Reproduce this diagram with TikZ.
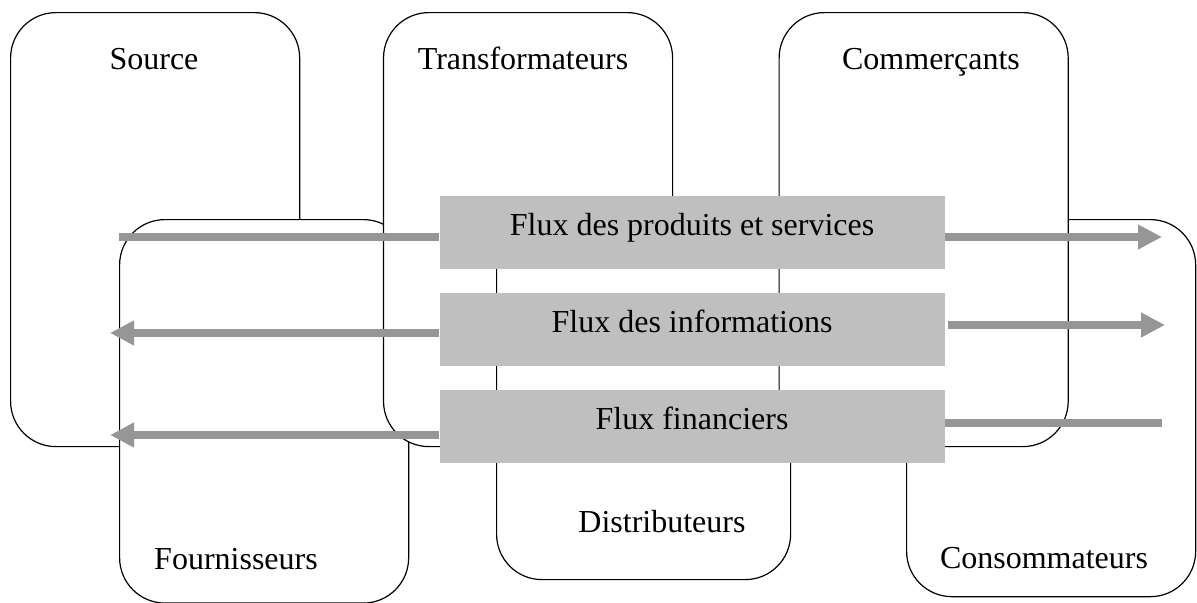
\documentclass[tikz,border=0pt]{standalone}
\usepackage{fontspec}
\setmainfont{Liberation Serif}
\usetikzlibrary{positioning,calc,arrows.meta}
\definecolor{barfill}{RGB}{191,191,191}
\definecolor{flowgray}{RGB}{150,150,150}
\tikzset{
  acteur/.style={draw, fill=white, line width=0.45pt, rounded corners=17pt, inner sep=0pt, minimum width=108.4pt},
  haut/.style={acteur, minimum height=162.75pt},
  bas/.style={acteur, minimum height=142.5pt},
  nom/.style={font=\fontsize{12pt}{14pt}\selectfont, inner sep=0pt},
  fluxbar/.style={fill=barfill, minimum width=189.4pt, inner sep=0pt, text height=15pt, text depth=12.4pt, font=\fontsize{12pt}{14pt}\selectfont},
  flux/.style={draw=flowgray, line width=2.75pt},
  pointe/.style={-{Triangle[length=9pt,width=8.75pt]}}
}

\begin{document}
\begin{tikzpicture}[x=0.375pt, y=-0.375pt]
    \useasboundingbox (0,0) rectangle (1197,603);
    % acteurs de la chaine
    \node (source) [haut, anchor=north west] at (10,12) {};
    \node (fourn) [bas, anchor=north west, minimum height=143.8pt] at (119,219) {};
    \node (transf) [haut, right=31pt of source] {};
    \node (distrib) [bas, anchor=north west, minimum width=110.25pt] at (496,199) {};
    \node (conso) [bas, anchor=north west, minimum height=141.4pt] at (906,219) {};
    \node (comm) [haut, right=39.5pt of transf] {};

    \node (t-source) [nom, anchor=base] at (154,70) {Source};
    \node (t-transf) [nom, anchor=base] at (523,70) {Transformateurs};
    \node (t-comm) [nom, anchor=base] at (931,70) {Commerçants};
    \node (t-fourn) [nom, anchor=base] at (236,569) {Fournisseurs};
    \node (t-distrib) [nom, anchor=base] at (662,532) {Distributeurs};
    \node (t-conso) [nom, anchor=base] at (1044,568) {Consommateurs};

    % flux
    \node (prod) [fluxbar, anchor=north west] at (439,195) {Flux des produits et services};
    \node (info) [fluxbar, below=8.625pt of prod] {Flux des informations};
    \node (fin) [fluxbar, below=8.625pt of info] {Flux financiers};

    \coordinate (prod-l) at (119,237);
    \coordinate (prod-r) at (1162,237);
    \coordinate (info-l) at (110,333);
    \coordinate (info-r) at (1165,325);
    \coordinate (fin-l) at (110,435);
    \coordinate (fin-r) at (1162,423);

    \draw[flux] (prod-l) -- (prod.west |- prod-l);
    \draw[flux,pointe] (prod.east |- prod-r) -- (prod-r);
    \draw[flux,pointe] (info.west |- info-l) -- (info-l);
    \draw[flux,pointe,shorten <=1.1pt] (info.east |- info-r) -- (info-r);
    \draw[flux,pointe] (fin.west |- fin-l) -- (fin-l);
    \draw[flux] (fin.east |- fin-r) -- (fin-r);
\end{tikzpicture}
\end{document}
